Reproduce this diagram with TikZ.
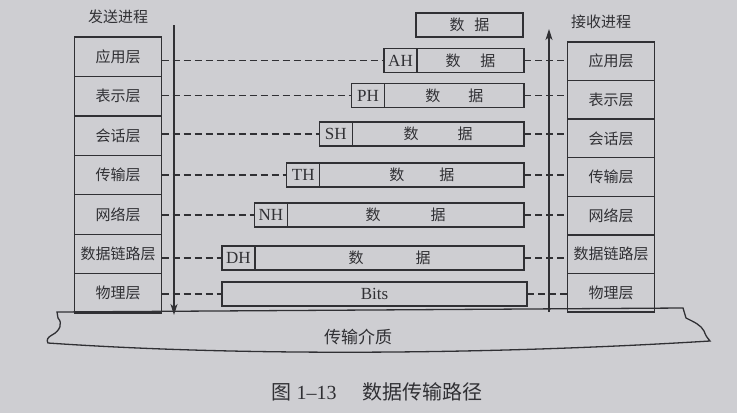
\documentclass[tikz,border=0pt]{standalone}
\usepackage{fontspec}
\setmainfont{Liberation Serif}
\newfontfamily\cjk{Noto Sans CJK SC}
\usetikzlibrary{arrows.meta,positioning,calc}

\definecolor{paper}{RGB}{206,206,210}
\definecolor{ink}{RGB}{48,48,52}

\tikzset{
  osibox/.style={draw=ink, line width=1.3pt, minimum width=87pt, minimum height=#1,
    inner sep=0pt, outer sep=0pt, text=ink, font=\cjk\fontsize{15}{18}\selectfont},
  hdrbox/.style={draw=ink, line width=1.3pt, minimum width=33pt, minimum height=24pt,
    inner sep=0pt, outer sep=0pt, text=ink, font=\fontsize{17}{20}\selectfont},
  databox/.style={draw=ink, line width=1.3pt, minimum width=#1, minimum height=24pt,
    inner sep=0pt, outer sep=0pt, text=ink, font=\cjk\fontsize{15}{18}\selectfont},
  peer/.style={draw=ink, line width=1.3pt, dash pattern=on 7pt off 4pt},
  flow/.style={draw=ink, line width=1.3pt, -{Stealth[length=11pt,width=7pt,inset=3pt]}},
  tag/.style={text=ink, font=\cjk\fontsize{15}{18}\selectfont}
}

\begin{document}
\begin{tikzpicture}[x=1pt,y=-1pt]

  \fill[paper] (0,0) rectangle (737,413);
  \useasboundingbox (0,0) rectangle (737,413);

  % sender and receiver stacks
  \foreach \nm/\txt [count=\i from 0] in {app/应用层,pre/表示层,ses/会话层,tra/传输层,net/网络层,lnk/数据链路层,phy/物理层}{
    \node[osibox=39.43pt, anchor=north] (l\nm) at (118,37+39.43*\i) {\txt};
    \node[osibox=38.57pt, anchor=north] (r\nm) at (611,42+38.57*\i) {\txt};
  }

  \node[tag] (send) at (118,17) {发送进程};
  \node[tag] (recv) at (601,22) {接收进程};

  \coordinate (downtop) at (174,25);
  \coordinate (downend) at (174,315);
  \draw[flow] (downtop) -- (downend);
  \coordinate (upbot) at (549,312);
  \coordinate (uptop) at (549,29);
  \draw[flow] (upbot) -- (uptop);

  \node[databox=107pt] (msg) at (469.5,25) {数\hspace{10pt}据};

  \foreach \hd/\nm/\yy/\gap [count=\k from 0] in {AH/app/60.5/20,PH/pre/95.5/28,SH/ses/134/39,TH/tra/175/35,NH/net/215/50,DH/lnk/258/52}{
    \pgfmathsetmacro{\hx}{384-32.4*\k}
    \pgfmathsetmacro{\dw}{524-\hx-33}
    \node[hdrbox, anchor=west] (h\nm) at (\hx,\yy) {\hd};
    \node[databox=\dw pt, right=0pt of h\nm] (d\nm) {数\hspace{\gap pt}据};
    \draw[peer] (l\nm.east |- h\nm.west) -- (h\nm.west);
    \draw[peer] (d\nm.east) -- (d\nm.east -| r\nm.west);
  }

  \node[databox=305pt, font=\fontsize{17}{20}\selectfont, anchor=west] (bits) at (222,294) {Bits};
  \draw[peer] (lphy.east |- bits.west) -- (bits.west);
  \draw[peer] (bits.east) -- (bits.east -| rphy.west);

  % transmission medium
  \draw[ink, line width=1.3pt] (57,312) -- (683,308) -- (686,318)
    .. controls (694,322) and (701,325) .. (704,331)
    .. controls (706,336) .. (710,341)
    .. controls (500,354) and (250,357) .. (48,343)
    .. controls (46,340) and (48,337) .. (52,335)
    .. controls (60,331) and (63,323) .. (58,318) -- cycle;
  \node[tag, font=\cjk\fontsize{17}{20}\selectfont] (medium) at (358,337) {传输介质};

  \node[text=ink, font=\fontsize{20}{24}\selectfont] (caption) at (377,392) {{\cjk 图}\hspace{5pt}1--13\hspace{26pt}{\cjk 数据传输路径}};

\end{tikzpicture}
\end{document}
